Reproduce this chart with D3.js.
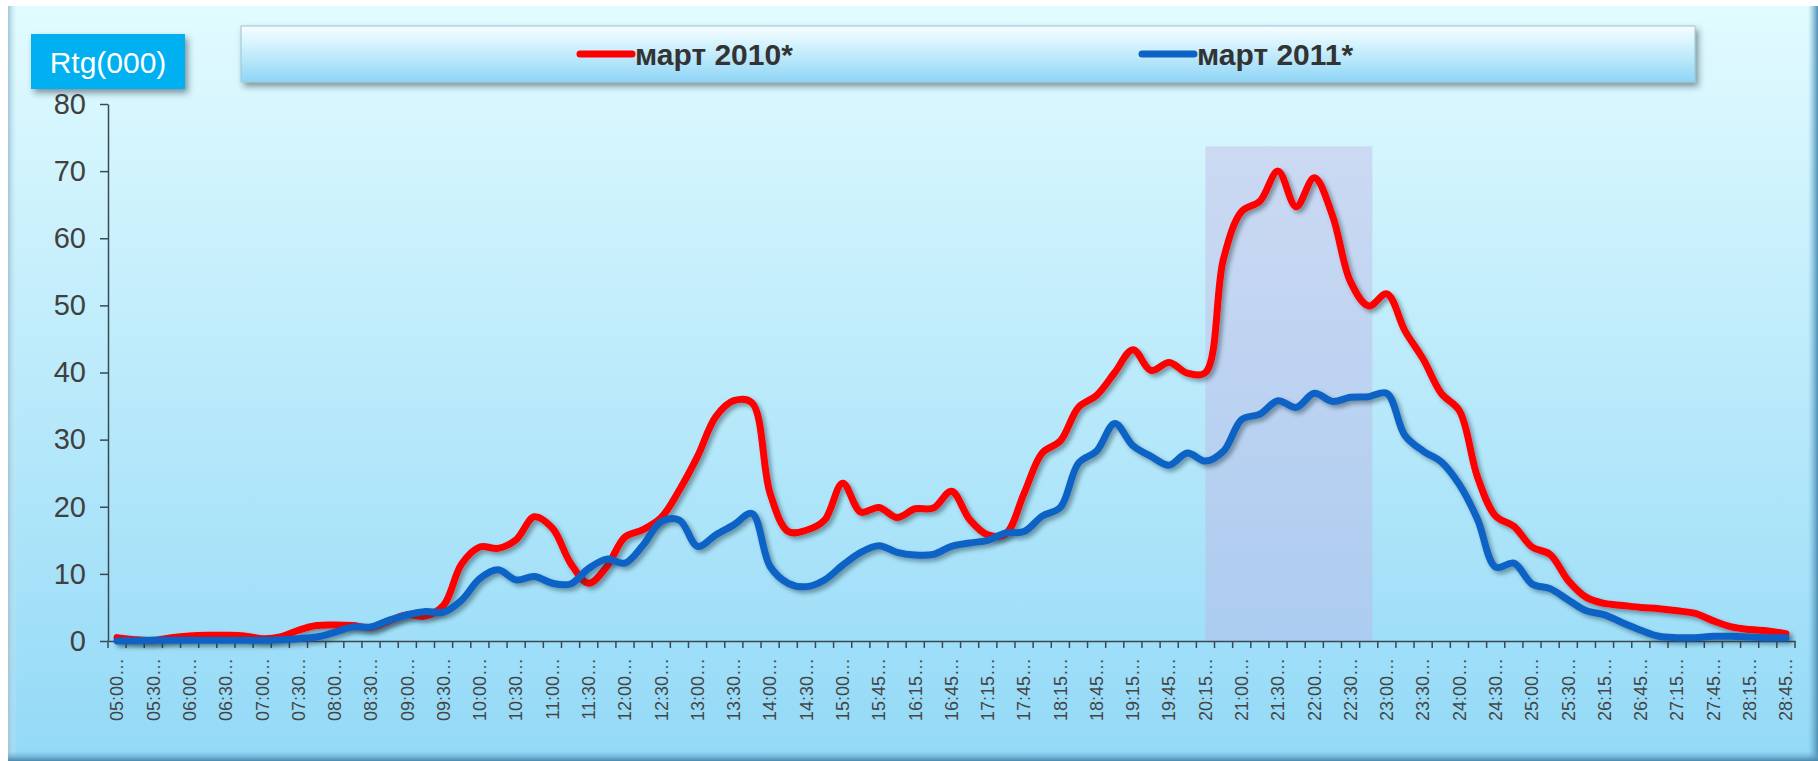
<!DOCTYPE html>
<html>
<head>
<meta charset="utf-8">
<script src="https://cdn.jsdelivr.net/npm/d3@7/dist/d3.min.js"></script>
<style>
  html, body { margin: 0; padding: 0; background: #fff; }
  svg { display: block; font-family: "Liberation Sans", Arial, sans-serif; }
</style>
</head>
<body>
<div id="chart"></div>
<script>
// 15-minute slots (a few are 30 min long), labels shown on every other slot
var slots = [
  "05:00","05:15","05:30","05:45","06:00","06:15","06:30","06:45","07:00","07:15",
  "07:30","07:45","08:00","08:15","08:30","08:45","09:00","09:15","09:30","09:45",
  "10:00","10:15","10:30","10:45","11:00","11:15","11:30","11:45","12:00","12:15",
  "12:30","12:45","13:00","13:15","13:30","13:45","14:00","14:15","14:30","14:45",
  "15:00","15:15","15:45","16:00","16:15","16:30","16:45","17:00","17:15","17:30",
  "17:45","18:00","18:15","18:30","18:45","19:00","19:15","19:30","19:45","20:00",
  "20:15","20:30","21:00","21:15","21:30","21:45","22:00","22:15","22:30","22:45",
  "23:00","23:15","23:30","23:45","24:00","24:15","24:30","24:45","25:00","25:15",
  "25:30","25:45","26:15","26:30","26:45","27:00","27:15","27:30","27:45","28:00",
  "28:15","28:30","28:45"
];

var mar2010 = [
  0.5, 0.2, 0.1, 0.5, 0.75, 0.85, 0.85, 0.75, 0.35, 0.6,
  1.6, 2.3, 2.4, 2.3, 2.0, 3.0, 3.9, 3.7, 5.3, 11.5,
  14, 13.8, 15.1, 18.5, 16.8, 11.6, 8.6, 11.1, 15.5, 16.6,
  18.4, 22.5, 27.5, 33.4, 35.8, 35.5, 22, 16.3, 16.5, 18,
  23.5, 19.2, 19.9, 18.4, 19.7, 19.8, 22.3, 18.1, 15.8, 16.0,
  22, 28, 29.8, 34.8, 36.6, 40, 43.4, 40.3, 41.5, 39.9,
  40, 57, 64, 65.5, 70, 64.7, 69, 63.4, 53.5, 49.9,
  51.7, 46.2, 42, 36.9, 34.3, 24.4, 18.6, 17.1, 14, 12.9,
  9, 6.5, 5.6, 5.3, 5.0, 4.8, 4.5, 4.1, 3.0, 2.1,
  1.7, 1.5, 1.1
];

var mar2011 = [
  0, 0.05, 0.1, 0.1, 0.1, 0.1, 0.1, 0.1, 0.1, 0.2,
  0.35, 0.6, 1.3, 2.1, 2.1, 3.1, 3.9, 4.4, 4.3, 6.1,
  9.3, 10.6, 9.1, 9.6, 8.6, 8.5, 10.8, 12.2, 11.6, 14.3,
  17.8, 18.0, 14.1, 15.8, 17.3, 19.0, 11.1, 8.6, 8.1, 9.1,
  11.3, 13.2, 14.2, 13.2, 12.8, 12.9, 14.1, 14.6, 15, 16.1,
  16.3, 18.6, 19.9, 26.5, 28.3, 32.4, 29.1, 27.5, 26.2, 28,
  26.8, 28.3, 33, 33.8, 35.8, 34.8, 36.9, 35.7, 36.3, 36.4,
  36.9, 30.6, 28.3, 26.7, 23.3, 18.1, 11, 11.6, 8.5, 7.8,
  6.1, 4.5, 3.9, 2.7, 1.6, 0.7, 0.5, 0.5, 0.7, 0.7,
  0.6, 0.5, 0.5
];

var seriesNames = ["март 2010*", "март 2011*"];
var seriesColors = ["#ff0000", "#0e62c6"];
var yTicks = [0, 10, 20, 30, 40, 50, 60, 70, 80];
var highlight = { from: "20:15", to: "22:45", top: 73.7 };

var W = 1818, H = 761;
var svg = d3.select("#chart").append("svg")
  .attr("width", W).attr("height", H);
var defs = svg.append("defs");

var bg = defs.append("linearGradient").attr("id", "bg")
  .attr("x1", 0).attr("y1", 0).attr("x2", 0).attr("y2", 1);
bg.append("stop").attr("offset", "0%").attr("stop-color", "#e2fbfe");
bg.append("stop").attr("offset", "100%").attr("stop-color", "#93d9f7");

var lg = defs.append("linearGradient").attr("id", "lg")
  .attr("x1", 0).attr("y1", 0).attr("x2", 0).attr("y2", 1);
lg.append("stop").attr("offset", "0%").attr("stop-color", "#f7fdff");
lg.append("stop").attr("offset", "35%").attr("stop-color", "#d2f2fd");
lg.append("stop").attr("offset", "100%").attr("stop-color", "#8fd5f6");

var edgeB = defs.append("linearGradient").attr("id", "edgeB")
  .attr("x1", 0).attr("y1", 0).attr("x2", 0).attr("y2", 1);
edgeB.append("stop").attr("offset", "0%").attr("stop-color", "#6fb4d8").attr("stop-opacity", 0);
edgeB.append("stop").attr("offset", "100%").attr("stop-color", "#4a88ad");
var edgeR = defs.append("linearGradient").attr("id", "edgeR")
  .attr("x1", 0).attr("y1", 0).attr("x2", 1).attr("y2", 0);
edgeR.append("stop").attr("offset", "0%").attr("stop-color", "#6fb4d8").attr("stop-opacity", 0);
edgeR.append("stop").attr("offset", "100%").attr("stop-color", "#4f8fb4");
var edgeL = defs.append("linearGradient").attr("id", "edgeL")
  .attr("x1", 0).attr("y1", 0).attr("x2", 1).attr("y2", 0);
edgeL.append("stop").attr("offset", "0%").attr("stop-color", "#9ec6d8");
edgeL.append("stop").attr("offset", "100%").attr("stop-color", "#cfeef8").attr("stop-opacity", 0);

var shadow = defs.append("filter").attr("id", "shadow")
  .attr("x", "-5%").attr("y", "-10%").attr("width", "110%").attr("height", "130%");
shadow.append("feDropShadow").attr("dx", 3).attr("dy", 3)
  .attr("stdDeviation", 2.2).attr("flood-color", "#1c3040").attr("flood-opacity", 0.45);

var boxShadow = defs.append("filter").attr("id", "boxShadow")
  .attr("x", "-10%").attr("y", "-20%").attr("width", "125%").attr("height", "160%");
boxShadow.append("feDropShadow").attr("dx", 3).attr("dy", 4)
  .attr("stdDeviation", 3).attr("flood-color", "#203040").attr("flood-opacity", 0.5);

// panel
svg.append("rect").attr("x", 8).attr("y", 6).attr("width", W - 8).attr("height", H - 6)
  .attr("fill", "url(#bg)");
svg.append("rect").attr("x", 8).attr("y", 6).attr("width", 9).attr("height", H - 6)
  .attr("fill", "url(#edgeL)");
svg.append("rect").attr("x", W - 10).attr("y", 6).attr("width", 10).attr("height", H - 6)
  .attr("fill", "url(#edgeR)");
svg.append("rect").attr("x", 8).attr("y", H - 10).attr("width", W - 8).attr("height", 10)
  .attr("fill", "url(#edgeB)");

// scales
var x = d3.scaleBand().domain(slots).range([108, 1795]).padding(0);
var y = d3.scaleLinear().domain([0, 80]).range([641, 104]);
var cx = function (s) { return x(s) + x.bandwidth() / 2; };

// highlighted prime-time band
svg.append("rect")
  .attr("x", cx(highlight.from))
  .attr("y", y(highlight.top))
  .attr("width", cx(highlight.to) + x.bandwidth() * 0.2 - cx(highlight.from))
  .attr("height", y(0) - y(highlight.top))
  .attr("fill", "#bfaee2").attr("fill-opacity", 0.38);

// y axis
var yAxis = svg.append("g").attr("transform", "translate(108,0)")
  .call(d3.axisLeft(y).tickValues(yTicks).tickSize(8).tickSizeOuter(0).tickPadding(14));
yAxis.select(".domain").attr("stroke", "#3a4a55").attr("stroke-width", 1.5);
yAxis.selectAll(".tick line").attr("stroke", "#3a4a55").attr("stroke-width", 1.5);
yAxis.selectAll(".tick text").attr("font-size", 29).attr("fill", "#404040")
  .attr("font-family", "Liberation Sans, Arial, sans-serif");

// x axis: labels on every other slot, ticks on slot boundaries
var xAxis = svg.append("g").attr("transform", "translate(0,641)")
  .call(d3.axisBottom(x)
    .tickValues(slots.filter(function (d, i) { return i % 2 === 0; }))
    .tickSize(0).tickSizeOuter(0)
    .tickFormat(function (d) { return d + "…"; }));
xAxis.select(".domain").attr("stroke", "#3a4a55").attr("stroke-width", 1.5);
xAxis.selectAll(".tick text")
  .attr("font-size", 18).attr("fill", "#454545")
  .attr("font-family", "Liberation Sans, Arial, sans-serif")
  .attr("text-anchor", "end")
  .attr("transform", "rotate(-90)")
  .attr("x", -17).attr("y", 0).attr("dy", "0.35em");
svg.append("g").selectAll("line")
  .data(slots.concat(["__end"]))
  .join("line")
  .attr("x1", function (d, i) { return i < slots.length ? x(d) : x(slots[slots.length - 1]) + x.bandwidth(); })
  .attr("x2", function (d, i) { return i < slots.length ? x(d) : x(slots[slots.length - 1]) + x.bandwidth(); })
  .attr("y1", 641).attr("y2", 648)
  .attr("stroke", "#3a4a55").attr("stroke-width", 1.5);

// lines
var line = d3.line()
  .x(function (d, i) { return cx(slots[i]); })
  .y(function (d) { return y(d); })
  .curve(d3.curveCatmullRom.alpha(0.5));

[mar2010, mar2011].forEach(function (vals, k) {
  svg.append("path").datum(vals)
    .attr("d", line)
    .attr("fill", "none")
    .attr("stroke", seriesColors[k])
    .attr("stroke-width", 7)
    .attr("stroke-linejoin", "round")
    .attr("stroke-linecap", "round")
    .attr("filter", "url(#shadow)");
});

// legend box
svg.append("rect").attr("x", 241).attr("y", 26).attr("width", 1454).attr("height", 56)
  .attr("fill", "url(#lg)").attr("stroke", "#9cc3d6").attr("stroke-width", 1)
  .attr("filter", "url(#boxShadow)");
var legendX = [580, 1142];
seriesNames.forEach(function (name, k) {
  var g = svg.append("g").attr("transform", "translate(" + legendX[k] + ",54)");
  g.append("line").attr("x1", 0).attr("x2", 52).attr("y1", 0).attr("y2", 0)
    .attr("stroke", seriesColors[k]).attr("stroke-width", 7)
    .attr("stroke-linecap", "round");
  g.append("text").attr("x", 55).attr("y", 0).attr("dy", "0.36em")
    .attr("font-size", 30).attr("font-weight", "bold").attr("fill", "#333")
    .text(name);
});

// unit badge
svg.append("rect").attr("x", 31).attr("y", 34).attr("width", 154).attr("height", 55)
  .attr("fill", "#00b0f0").attr("filter", "url(#boxShadow)");
svg.append("text").attr("x", 108).attr("y", 62).attr("dy", "0.36em")
  .attr("text-anchor", "middle").attr("font-size", 30).attr("fill", "#fff")
  .text("Rtg(000)");
</script>
</body>
</html>
